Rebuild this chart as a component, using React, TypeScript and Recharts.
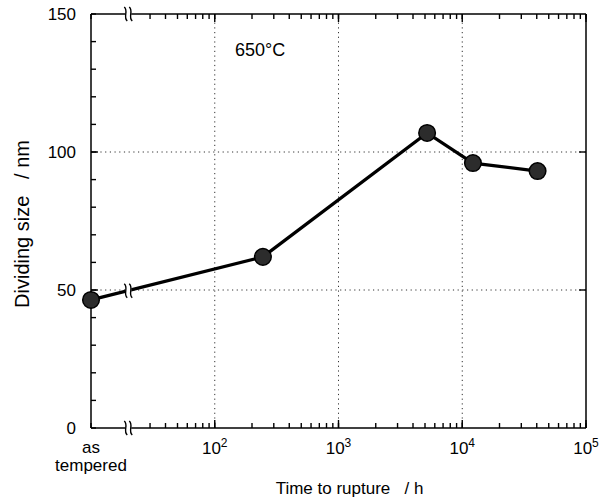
import React from "react";
import { LineChart, Line, XAxis, YAxis, ReferenceLine, ReferenceDot, Label } from "recharts";

// x = time to rupture in hours; the first point ("as tempered") sits on the left edge at 10 h
const hours = [10, 245, 5200, 12200, 40600];
const sizeNm = [46.4, 62.0, 106.9, 96.0, 93.1];

const majorX = [100, 1000, 10000, 100000];
const minorX = [
  30, 40, 50, 60, 70, 80, 90,
  200, 300, 400, 500, 600, 700, 800, 900,
  2000, 3000, 4000, 5000, 6000, 7000, 8000, 9000,
  20000, 30000, 40000, 50000, 60000, 70000, 80000, 90000,
];
const xLabels: Record<number, string> = { 100: "2", 1000: "3", 10000: "4", 100000: "5" };

const yTicks = [0, 10, 20, 30, 40, 50, 60, 70, 80, 90, 100, 110, 120, 130, 140, 150];
const yMajor = [0, 50, 100, 150];
const gridX = [100, 1000, 10000];
const gridY = [50, 100];

// axis break (in hours) and where the line crosses it
const breakX = 20;
const breakY = 49.7;

const X_MIN = 10;
const X_MAX = 100000;
const Y_MIN = 0;
const Y_MAX = 150;

const data = hours.map((h, i) => ({ h, size: sizeNm[i] }));
const xTicks = [X_MIN, breakX, ...minorX, ...majorX].sort((a, b) => a - b);
const yInner = [50, 100];

const FONT = '"Liberation Sans", Arial, sans-serif';
const TICK = -5; // negative size = tick marks point into the plot

function BreakMark({ x, y }: { x: number; y: number }) {
  const s = (o: number) =>
    `M ${x + o - 1.5} ${y - 7} C ${x + o + 3} ${y - 3}, ${x + o - 3} ${y + 3}, ${x + o + 1.5} ${y + 7}`;
  return (
    <g>
      <rect x={x - 3} y={y - 7} width={6} height={14} fill="#fff" />
      <path d={s(-2.5)} stroke="#000" strokeWidth={1.4} fill="none" />
      <path d={s(2.5)} stroke="#000" strokeWidth={1.4} fill="none" />
    </g>
  );
}

function MajorTick(props: any) {
  const { cx, cy, dx, dy } = props;
  return <path d={`M ${cx} ${cy} L ${cx + dx} ${cy + dy}`} stroke="#000" strokeWidth={1.4} fill="none" />;
}

function XTick(props: any) {
  const { x, y, payload, side } = props;
  const v = payload.value;
  // y sits at the inner end of the tick; the axis line is TICK px back
  const axisY = side === "bottom" ? y - TICK : y + TICK;
  if (v === breakX) return <BreakMark x={x} y={axisY} />;
  if (side !== "bottom") return <g />;
  if (v === X_MIN) {
    return (
      <text fontFamily={FONT} fontSize={17} textAnchor="middle" fill="#000">
        <tspan x={x} y={axisY + 25}>as</tspan>
        <tspan x={x} y={axisY + 43}>tempered</tspan>
      </text>
    );
  }
  if (!majorX.includes(v)) return <g />;
  return (
    <text x={x} y={axisY + 26} fontFamily={FONT} fontSize={17} textAnchor="middle" fill="#000">
      <tspan>10</tspan>
      <tspan dy={-7} fontSize={12}>{xLabels[v]}</tspan>
    </text>
  );
}

function YTick(props: any) {
  const { x, y, payload } = props;
  const v = payload.value;
  if (!yMajor.includes(v)) return <g />;
  return (
    <text x={x + TICK - 15} y={y + 6} fontFamily={FONT} fontSize={17} textAnchor="end" fill="#000">
      {v}
    </text>
  );
}

function Marker(props: any) {
  const { cx, cy } = props;
  return <circle cx={cx} cy={cy} r={8.3} fill="#2c2c2c" stroke="#000" strokeWidth={1.5} />;
}

const tickLine = { stroke: "#000", strokeWidth: 1.4 };
const axisLine = { stroke: "#000", strokeWidth: 1.5 };

export default function App() {
  return (
    <div style={{ position: "absolute", left: 0, top: 0, width: 611, height: 501, background: "#fff" }}>
      <LineChart width={611} height={501} data={data} margin={{ top: 13, right: 24, bottom: 0, left: 0 }}>
        <XAxis
          xAxisId="b"
          dataKey="h"
          type="number"
          scale="log"
          domain={[X_MIN, X_MAX]}
          ticks={xTicks}
          interval={0}
          height={73}
          stroke="#000"
          tickSize={TICK}
          tickMargin={0}
          tickLine={tickLine}
          axisLine={axisLine}
          tick={(p: any) => <XTick {...p} side="bottom" />}
        >
          <Label
            content={(p: any) => {
              const vb = p.viewBox;
              return (
                <text
                  x={vb.x + vb.width / 2 + 11}
                  y={vb.y + 66}
                  fontFamily={FONT}
                  fontSize={17}
                  textAnchor="middle"
                  fill="#000"
                >
                  {"Time to rupture\u00a0\u00a0\u00a0/ h"}
                </text>
              );
            }}
          />
        </XAxis>
        <XAxis
          xAxisId="t"
          dataKey="h"
          orientation="top"
          type="number"
          scale="log"
          domain={[X_MIN, X_MAX]}
          ticks={xTicks}
          interval={0}
          height={1}
          stroke="#000"
          tickSize={TICK}
          tickMargin={0}
          tickLine={tickLine}
          axisLine={axisLine}
          tick={(p: any) => <XTick {...p} side="top" />}
        />
        <YAxis
          yAxisId="l"
          type="number"
          domain={[Y_MIN, Y_MAX]}
          ticks={yTicks}
          interval={0}
          width={91}
          stroke="#000"
          tickSize={TICK}
          tickMargin={0}
          tickLine={tickLine}
          axisLine={axisLine}
          tick={(p: any) => <YTick {...p} />}
        >
          <Label
            content={(p: any) => {
              const vb = p.viewBox;
              const cx = vb.x + 22;
              const cy = vb.y + vb.height / 2 + 3;
              return (
                <text
                  x={cx}
                  y={cy}
                  transform={`rotate(-90 ${cx} ${cy})`}
                  fontFamily={FONT}
                  fontSize={20}
                  textAnchor="middle"
                  dominantBaseline="central"
                  fill="#000"
                >
                  {"Dividing size\u00a0\u00a0\u00a0/ nm"}
                </text>
              );
            }}
          />
        </YAxis>
        <YAxis
          yAxisId="r"
          orientation="right"
          type="number"
          domain={[Y_MIN, Y_MAX]}
          ticks={yTicks}
          interval={0}
          width={1}
          stroke="#000"
          tickSize={TICK}
          tick={false}
          tickLine={tickLine}
          axisLine={axisLine}
        />
        {gridX.map((g) => (
          <ReferenceLine key={"gx" + g} x={g} xAxisId="b" yAxisId="l" stroke="#333" strokeDasharray="1.2 3.5" />
        ))}
        {gridY.map((g) => (
          <ReferenceLine key={"gy" + g} y={g} xAxisId="b" yAxisId="l" stroke="#333" strokeDasharray="1.2 3.5" />
        ))}
        {/* longer marks at the decades and at 50 / 100 */}
        {majorX.map((v) => (
          <ReferenceDot key={"mb" + v} xAxisId="b" yAxisId="l" x={v} y={Y_MIN} ifOverflow="visible"
            shape={(p: any) => <MajorTick {...p} dx={0} dy={-8} />} />
        ))}
        {majorX.map((v) => (
          <ReferenceDot key={"mt" + v} xAxisId="b" yAxisId="l" x={v} y={Y_MAX} ifOverflow="visible"
            shape={(p: any) => <MajorTick {...p} dx={0} dy={8} />} />
        ))}
        {yInner.map((v) => (
          <ReferenceDot key={"ml" + v} xAxisId="b" yAxisId="l" x={X_MIN} y={v} ifOverflow="visible"
            shape={(p: any) => <MajorTick {...p} dx={7} dy={0} />} />
        ))}
        {yInner.map((v) => (
          <ReferenceDot key={"mr" + v} xAxisId="b" yAxisId="l" x={X_MAX} y={v} ifOverflow="visible"
            shape={(p: any) => <MajorTick {...p} dx={-7} dy={0} />} />
        ))}
        {/* invisible copy so the top and right frame axes get drawn */}
        <Line
          xAxisId="t"
          yAxisId="r"
          type="linear"
          dataKey="size"
          stroke="none"
          dot={false}
          activeDot={false}
          legendType="none"
          isAnimationActive={false}
        />
        <Line
          xAxisId="b"
          yAxisId="l"
          type="linear"
          dataKey="size"
          stroke="#000"
          strokeWidth={3.3}
          dot={<Marker />}
          activeDot={false}
          isAnimationActive={false}
        />
        <ReferenceDot
          xAxisId="b"
          yAxisId="l"
          x={breakX}
          y={breakY}
          shape={(p: any) => <BreakMark x={p.cx} y={p.cy} />}
        />
      </LineChart>
      <div
        style={{
          position: "absolute",
          left: 235,
          top: 40,
          fontFamily: FONT,
          fontSize: 18,
          color: "#000",
        }}
      >
        650°C
      </div>
    </div>
  );
}
